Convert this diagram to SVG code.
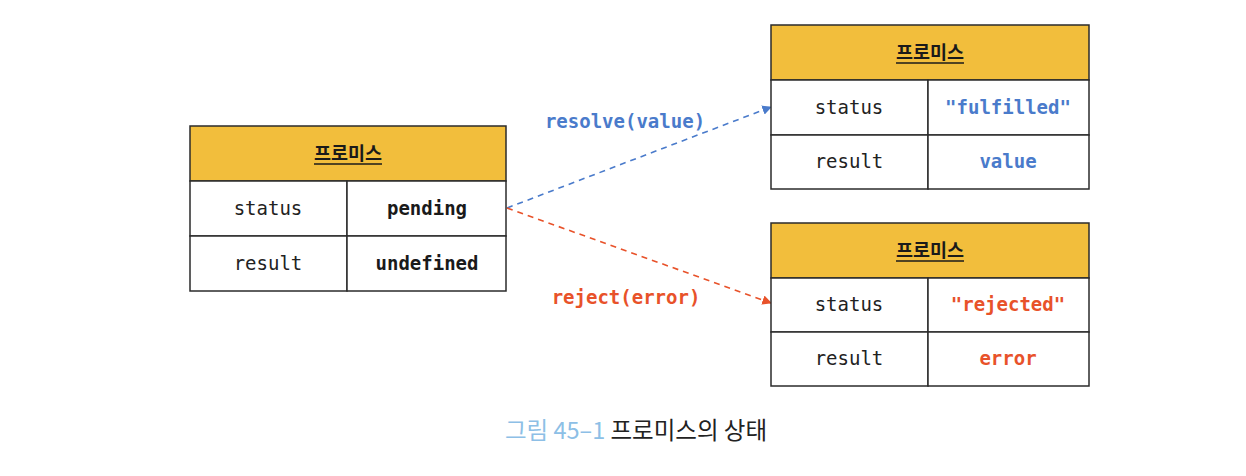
<svg xmlns="http://www.w3.org/2000/svg" width="1246" height="476" viewBox="0 0 1246 476">
<defs>
<style>
.hdr{fill:#F2BE3C;stroke:#2b2b2b;stroke-width:1.5}
.cell{fill:#ffffff;stroke:#2b2b2b;stroke-width:1.5}
.ttl{font-family:"Noto Sans CJK KR",sans-serif;font-weight:700;font-size:18.5px;fill:#1a1a1a;text-anchor:middle}
.ul{stroke:#1a1a1a;stroke-width:1.5}
.key{font-family:"DejaVu Sans Mono","Liberation Mono",monospace;font-size:19px;fill:#222;text-anchor:middle}
.val{font-family:"DejaVu Sans Mono","Liberation Mono",monospace;font-size:19px;font-weight:700;fill:#1a1a1a;text-anchor:middle}
.blue{fill:#4A7BCB}
.orange{fill:#E8522A}
.lbl{font-family:"DejaVu Sans Mono","Liberation Mono",monospace;font-size:19px;font-weight:700;text-anchor:middle}
.cap{font-family:"Noto Sans CJK KR",sans-serif;font-size:23.5px}
</style>
<marker id="ab" viewBox="0 0 10 10" refX="9" refY="5" markerWidth="6" markerHeight="6" orient="auto"><path d="M0,0 L10,5 L0,10 Z" fill="#4A7BCB"/></marker>
<marker id="ao" viewBox="0 0 10 10" refX="9" refY="5" markerWidth="6" markerHeight="6" orient="auto"><path d="M0,0 L10,5 L0,10 Z" fill="#E8522A"/></marker>
</defs>
<rect width="1246" height="476" fill="#ffffff"/>

<g id="connectors">
<line x1="507" y1="208" x2="771" y2="107" stroke="#4A7BCB" stroke-width="1.6" stroke-dasharray="6,5" marker-end="url(#ab)"/>
<line x1="507" y1="208" x2="771" y2="303" stroke="#E8522A" stroke-width="1.6" stroke-dasharray="6,5" marker-end="url(#ao)"/>
<text class="lbl blue" x="625" y="128">resolve(value)</text>
<text class="lbl orange" x="626" y="304">reject(error)</text>
</g>

<g id="pending">
<rect class="hdr" x="190" y="126" width="316" height="55"/>
<rect class="cell" x="190" y="181" width="157" height="55"/>
<rect class="cell" x="347" y="181" width="159" height="55"/>
<rect class="cell" x="190" y="236" width="157" height="55"/>
<rect class="cell" x="347" y="236" width="159" height="55"/>
<text class="ttl" x="348" y="160">프로미스</text>
<line class="ul" x1="314" y1="164" x2="382" y2="164"/>
<text class="key" x="268" y="215">status</text>
<text class="val" x="427" y="215">pending</text>
<text class="key" x="268" y="270">result</text>
<text class="val" x="427" y="270">undefined</text>
</g>

<g id="fulfilled">
<rect class="hdr" x="771" y="25" width="318" height="55"/>
<rect class="cell" x="771" y="80" width="157" height="55"/>
<rect class="cell" x="928" y="80" width="161" height="55"/>
<rect class="cell" x="771" y="135" width="157" height="54"/>
<rect class="cell" x="928" y="135" width="161" height="54"/>
<text class="ttl" x="930" y="59">프로미스</text>
<line class="ul" x1="896" y1="63" x2="964" y2="63"/>
<text class="key" x="849" y="114">status</text>
<text class="val blue" x="1008" y="114">"fulfilled"</text>
<text class="key" x="849" y="168">result</text>
<text class="val blue" x="1008" y="168">value</text>
</g>

<g id="rejected">
<rect class="hdr" x="771" y="223" width="318" height="55"/>
<rect class="cell" x="771" y="278" width="157" height="54"/>
<rect class="cell" x="928" y="278" width="161" height="54"/>
<rect class="cell" x="771" y="332" width="157" height="54"/>
<rect class="cell" x="928" y="332" width="161" height="54"/>
<text class="ttl" x="930" y="257">프로미스</text>
<line class="ul" x1="896" y1="261" x2="964" y2="261"/>
<text class="key" x="849" y="311">status</text>
<text class="val orange" x="1008" y="311">"rejected"</text>
<text class="key" x="849" y="365">result</text>
<text class="val orange" x="1008" y="365">error</text>
</g>

<g id="caption">
<text class="cap" x="505" y="439"><tspan fill="#8DBFE6">그림 45–1</tspan> <tspan fill="#222">프로미스의 상태</tspan></text>
</g>
</svg>
